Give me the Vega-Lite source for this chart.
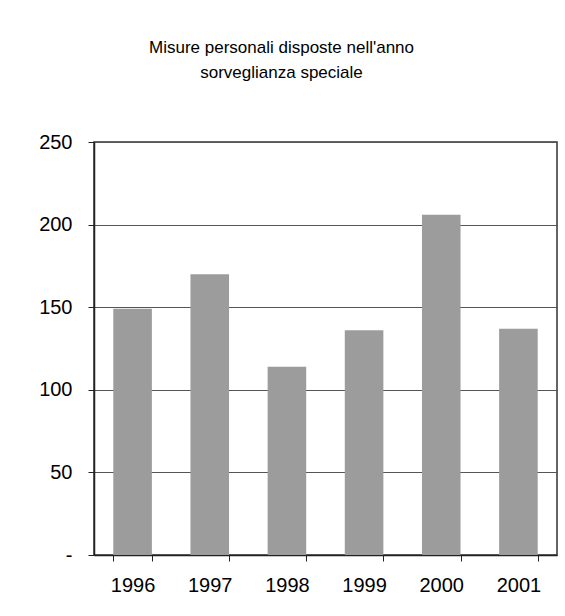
{
  "$schema": "https://vega.github.io/schema/vega-lite/v6.json",
  "width": 463,
  "height": 413,
  "autosize": {"type": "none"},
  "padding": {"left": 94, "top": 142, "right": 8, "bottom": 61},
  "background": "white",
  "title": {
    "text": ["Misure personali disposte nell'anno", "sorveglianza speciale"],
    "font": "Liberation Sans",
    "fontSize": 17,
    "fontWeight": "normal",
    "color": "#000000",
    "lineHeight": 25,
    "anchor": "middle",
    "dx": -44,
    "offset": 50
  },
  "data": {
    "values": [
      {"anno": "1996", "misure": 149},
      {"anno": "1997", "misure": 170},
      {"anno": "1998", "misure": 114},
      {"anno": "1999", "misure": 136},
      {"anno": "2000", "misure": 206},
      {"anno": "2001", "misure": 137}
    ]
  },
  "mark": {"type": "bar", "color": "#9c9c9c"},
  "encoding": {
    "x": {
      "field": "anno",
      "type": "ordinal",
      "scale": {"paddingInner": 0.5, "paddingOuter": 0.25},
      "axis": {
        "title": null,
        "labelAngle": 0,
        "labelFont": "Liberation Sans",
        "labelFontSize": 20,
        "labelColor": "#000000",
        "labelPadding": 14,
        "tickBand": "extent",
        "tickSize": 6,
        "tickColor": "#222222",
        "domainColor": "#222222",
        "domainWidth": 1.5
      }
    },
    "y": {
      "field": "misure",
      "type": "quantitative",
      "scale": {"domain": [0, 250], "nice": false},
      "axis": {
        "title": null,
        "values": [0, 50, 100, 150, 200, 250],
        "labelExpr": "datum.value == 0 ? '-' : datum.label",
        "labelFont": "Liberation Sans",
        "labelFontSize": 20,
        "labelColor": "#000000",
        "labelPadding": 16,
        "tickSize": 6,
        "tickColor": "#222222",
        "domainColor": "#222222",
        "domainWidth": 1.5,
        "grid": true,
        "gridColor": "#555555",
        "gridWidth": 1
      }
    }
  },
  "config": {
    "view": {"stroke": "#333333", "strokeWidth": 1.5}
  }
}
